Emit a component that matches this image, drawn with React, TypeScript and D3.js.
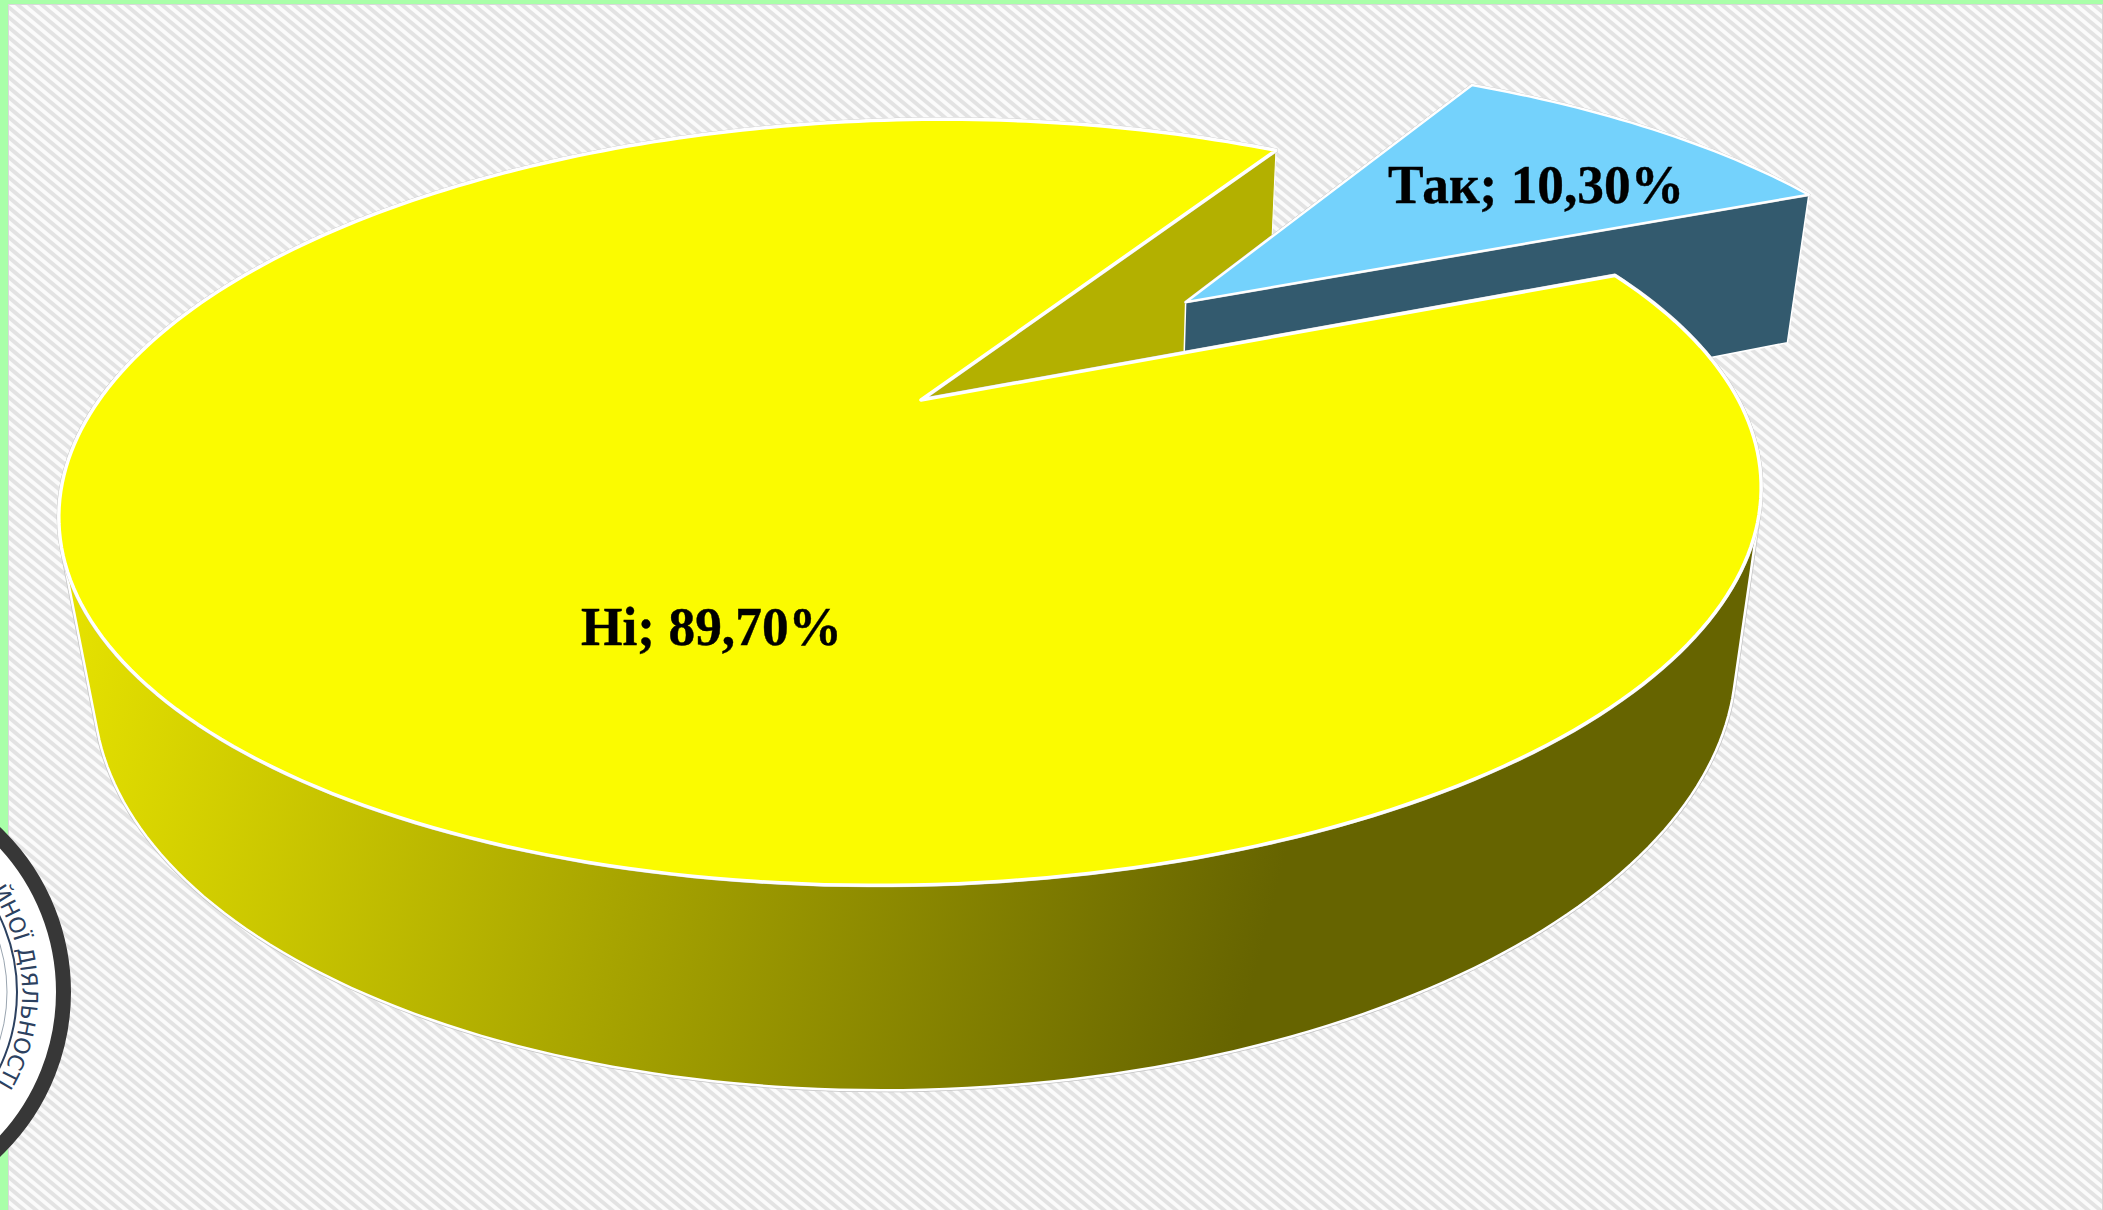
import React from "react";
import * as d3 from "d3";

const categories = ["Так", "Ні"];
const shares = [10.3, 89.7];
const labels = ["Так; 10,30%", "Ні; 89,70%"];
const sliceColors = ["#74d2fc", "#fbfb00"];
const stampText = "ЙНОЇ ДІЯЛЬНОСТІ";

const W = 2103, H = 1210;
const cx = 921, cy = 400;
const ux = 820, uy = -5.4, vX = 17.6, vY = -355.7, alpha = 0.00675, beta = 0.267;
const m = 0.0339, vx = 1037, vy = 5520;
const firstAngle = (31 * Math.PI) / 180;
const explode = 0.45;

function proj(X: number, Y: number, Z: number): [number, number] {
  const w = 1 + alpha * X + beta * Y;
  const nx = cx * w + ux * X + vX * Y;
  const ny = cy * w + uy * X + vY * Y;
  return [(nx + m * vx * Z) / (w + m * Z), (ny + m * vy * Z) / (w + m * Z)];
}

const pieGen = d3.pie<number>().sort(null).startAngle(firstAngle).endAngle(firstAngle + 2 * Math.PI);
const slices = pieGen(shares);

const line = d3.line();

function arcPts(a0: number, a1: number, Z: number, ox = 0, oy = 0, r = 1) {
  const n = Math.max(4, Math.round(Math.abs(a1 - a0) / 0.02));
  return d3.range(n + 1).map((i) => {
    const a = a0 + ((a1 - a0) * i) / n;
    return proj(ox + r * Math.sin(a), oy + r * Math.cos(a), Z);
  });
}

const rad = (d: number) => (d * Math.PI) / 180;

export default function App() {
  const [yes, no] = slices;
  const mid = (yes.startAngle + yes.endAngle) / 2;
  const ox = explode * Math.sin(mid), oy = explode * Math.cos(mid);
  const yesR = 1.0;

  const noTop = [proj(0, 0, 0), ...arcPts(no.startAngle, no.endAngle, 0)];
  const rimPts = [...arcPts(rad(85), rad(275), 0), ...arcPts(rad(85), rad(275), 1)];
  const noRim = d3.polygonHull(rimPts)!;
  const noWall = [
    proj(0, 0, 0),
    proj(Math.sin(no.endAngle), Math.cos(no.endAngle), 0),
    proj(Math.sin(no.endAngle), Math.cos(no.endAngle), 1),
    proj(0, 0, 1),
  ];
  const yesTop = [proj(ox, oy, 0), ...arcPts(yes.startAngle, yes.endAngle, 0, ox, oy, yesR)];
  const ex = ox + yesR * Math.sin(yes.endAngle), ey = oy + yesR * Math.cos(yes.endAngle);
  const yesWall = [proj(ox, oy, 0), proj(ex, ey, 0), proj(ex, ey, 1), proj(ox, oy, 1)];

  const stampCx = -156, stampCy = 992, textR = 178;
  const t0 = rad(20), t1 = rad(121);
  const arcD = `M${stampCx + textR * Math.sin(t0)},${stampCy - textR * Math.cos(t0)} A${textR},${textR} 0 0 1 ${
    stampCx + textR * Math.sin(t1)
  },${stampCy - textR * Math.cos(t1)}`;

  return (
    <svg
      width={W}
      height={H}
      viewBox={`0 0 ${W} ${H}`}
      style={{ position: "fixed", left: 0, top: 0, display: "block" }}
      data-categories={categories.join(",")}
    >
      <defs>
        <pattern id="bgStripe" width="12" height="10" patternUnits="userSpaceOnUse">
          <rect width="12" height="10" fill="#fbfbfb" />
          <path d="M-12,-10 L24,20 M0,-10 L36,20 M-24,-10 L12,20" stroke="#e3e3e3" strokeWidth="3.8" fill="none" />
        </pattern>
        <linearGradient id="rimGrad" gradientUnits="userSpaceOnUse" x1="70" y1="600" x2="1274" y2="900">
          <stop offset="0" stopColor="#e6e200" />
          <stop offset="1" stopColor="#666400" />
        </linearGradient>
        <path id="stampArc" d={arcD} />
      </defs>
      <rect width={W} height={H} fill="#a9ffa9" />
      <rect x={8.5} y={4.5} width={W - 9} height={H} fill="url(#bgStripe)" stroke="#d8d8d8" />

      {/* stamp */}
      <g>
        <circle cx={stampCx} cy={stampCy} r={219.5} fill="#ffffff" stroke="#373737" strokeWidth={15} />
        <circle cx={stampCx} cy={stampCy} r={173} fill="none" stroke="#2c4160" strokeWidth={2} />
        <circle cx={stampCx} cy={stampCy} r={163} fill="none" stroke="#9aa5b0" strokeWidth={1} />
        <text fontFamily="'DejaVu Sans', sans-serif" fontSize={22} fill="#2c4160">
          <textPath href="#stampArc" startOffset="100%" textAnchor="end">
            {stampText}
          </textPath>
        </text>
      </g>

      {/* Ні rim, behind the cut walls */}
      <path d={line(noRim)! + "Z"} fill="none" stroke="#c4c4c4" strokeWidth={4} strokeLinejoin="round" />
      <path d={line(noRim)! + "Z"} fill="url(#rimGrad)" stroke="#fff" strokeWidth={2.5} strokeLinejoin="round" />

      {/* Так */}
      <path d={line(noWall)! + "Z"} fill="#b3b000" stroke="#fff" strokeWidth={1} />
      <path d={line(yesWall)! + "Z"} fill="#335a6e" stroke="#fff" strokeWidth={1.5} />
      <path d={line(yesTop)! + "Z"} fill="none" stroke="#c4c4c4" strokeWidth={3} strokeLinejoin="round" />
      <path d={line(yesTop)! + "Z"} fill={sliceColors[0]} stroke="#fff" strokeWidth={2.5} strokeLinejoin="round" />

      {/* Ні top */}
      <path d={line(noTop)! + "Z"} fill="none" stroke="#c4c4c4" strokeWidth={4} strokeLinejoin="round" />
      <path d={line(noTop)! + "Z"} fill={sliceColors[1]} stroke="#fff" strokeWidth={3.5} strokeLinejoin="round" />

      <text x={1388} y={203} fontFamily="'Liberation Serif', serif" fontWeight="bold" fontSize={54} fill="#000" textLength={296} lengthAdjust="spacingAndGlyphs" stroke="#000" strokeWidth={0.4}>
        {labels[0]}
      </text>
      <text x={581} y={645} fontFamily="'Liberation Serif', serif" fontWeight="bold" fontSize={54} fill="#000" textLength={261} lengthAdjust="spacingAndGlyphs" stroke="#000" strokeWidth={0.4}>
        {labels[1]}
      </text>
    </svg>
  );
}
